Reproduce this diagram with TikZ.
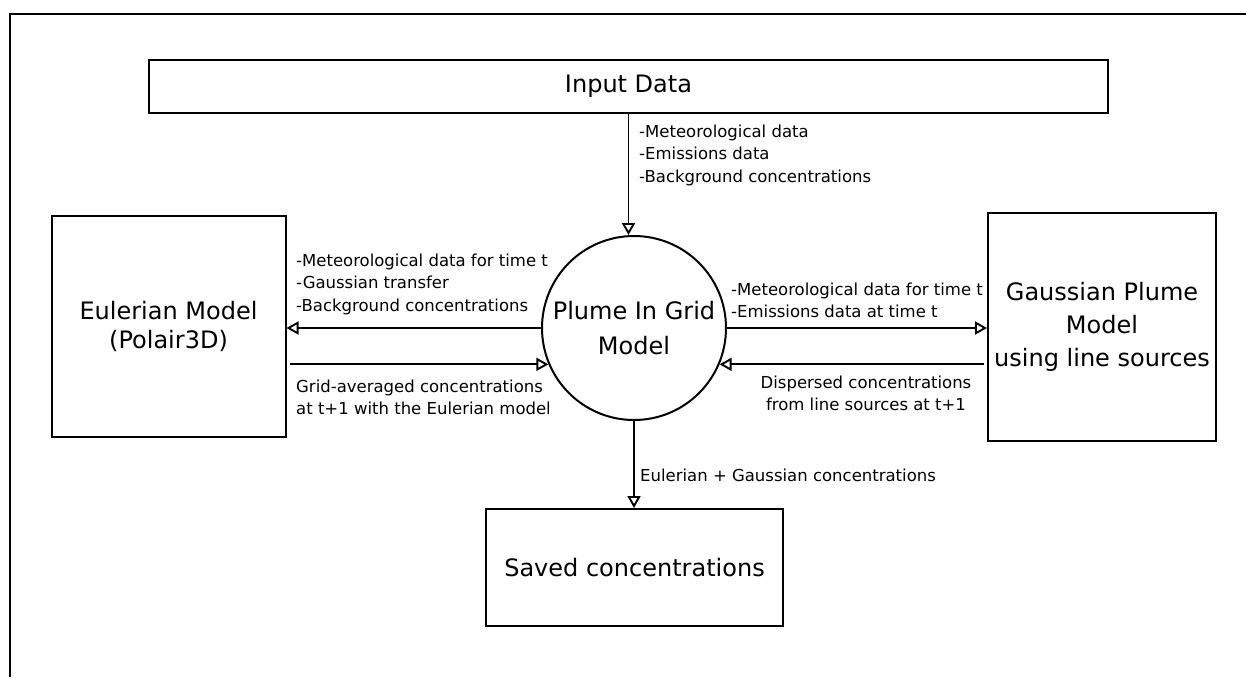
\documentclass[tikz,border=0pt]{standalone}
\usepackage{fontspec}
\setmainfont{DejaVu Sans}
\usetikzlibrary{arrows.meta}
\begin{document}
\begin{tikzpicture}[x=1pt,y=-1pt,
  box/.style={draw,line width=2pt,inner sep=0pt,align=center,font=\fontsize{24}{29}\selectfont},
  lab/.style={inner sep=0pt,font=\fontsize{16.5}{22.5}\selectfont},
  conn/.style={line width=1.9pt,-{Triangle[open,length=12pt,width=13pt,line width=1.9pt]}},
  ]
\useasboundingbox (0,0) rectangle (1246,677);
\coordinate (fbl) at (10,677);
\coordinate (ftl) at (10,14);
\coordinate (ftr) at (1246,14);
\draw[line width=2.2pt] (fbl) -- (ftl) -- (ftr);

\node[box,minimum width=959pt,minimum height=53pt] (input) at (628.5,86.5) {Input Data};
\node[box,minimum width=234pt,minimum height=221pt] (eul) at (168.5,326.5) {Eulerian Model\\(Polair3D)};
\node[box,circle,minimum size=184pt,font=\fontsize{24}{35}\selectfont] (plume) at (634,328) {Plume In Grid\\Model};
\node[box,minimum width=228pt,minimum height=228pt,font=\fontsize{24}{33}\selectfont] (gau) at (1102,327) {Gaussian Plume\\Model\\using line sources};
\node[box,minimum width=297pt,minimum height=117pt] (saved) at (634.5,567.5) {Saved concentrations};

\draw[conn] (input.south) -- (input.south |- plume.north);
\draw[conn] (plume.west) -- (eul.east |- plume.west);
\draw[conn,shorten <=3pt] (eul.east |- plume.203) -- (plume.203);
\draw[conn] (plume.east) -- (gau.west |- plume.east);
\draw[conn,shorten <=3pt] (gau.west |- plume.337.6) -- (plume.337.6);
\draw[conn] (plume.south) -- (plume.south |- saved.north);

\node[lab,anchor=north west,align=left] (ltop) at (639,124.5) {-Meteorological data\\-Emissions data\\-Background concentrations};
\node[lab,anchor=north west,align=left] (lleft) at (296,253.5) {-Meteorological data for time t\\-Gaussian transfer\\-Background concentrations};
\node[lab,anchor=north west,align=left] (lleftb) at (296,379.5) {Grid-averaged concentrations\\at t+1 with the Eulerian model};
\node[lab,anchor=north west,align=left] (lright) at (731,282.5) {-Meteorological data for time t\\-Emissions data at time t};
\node[lab,anchor=north,align=center] (lrightb) at (866,375.5) {Dispersed concentrations\\from line sources at t+1};
\node[lab,anchor=base west] (lbot) at (640,481) {Eulerian + Gaussian concentrations};
\end{tikzpicture}
\end{document}
